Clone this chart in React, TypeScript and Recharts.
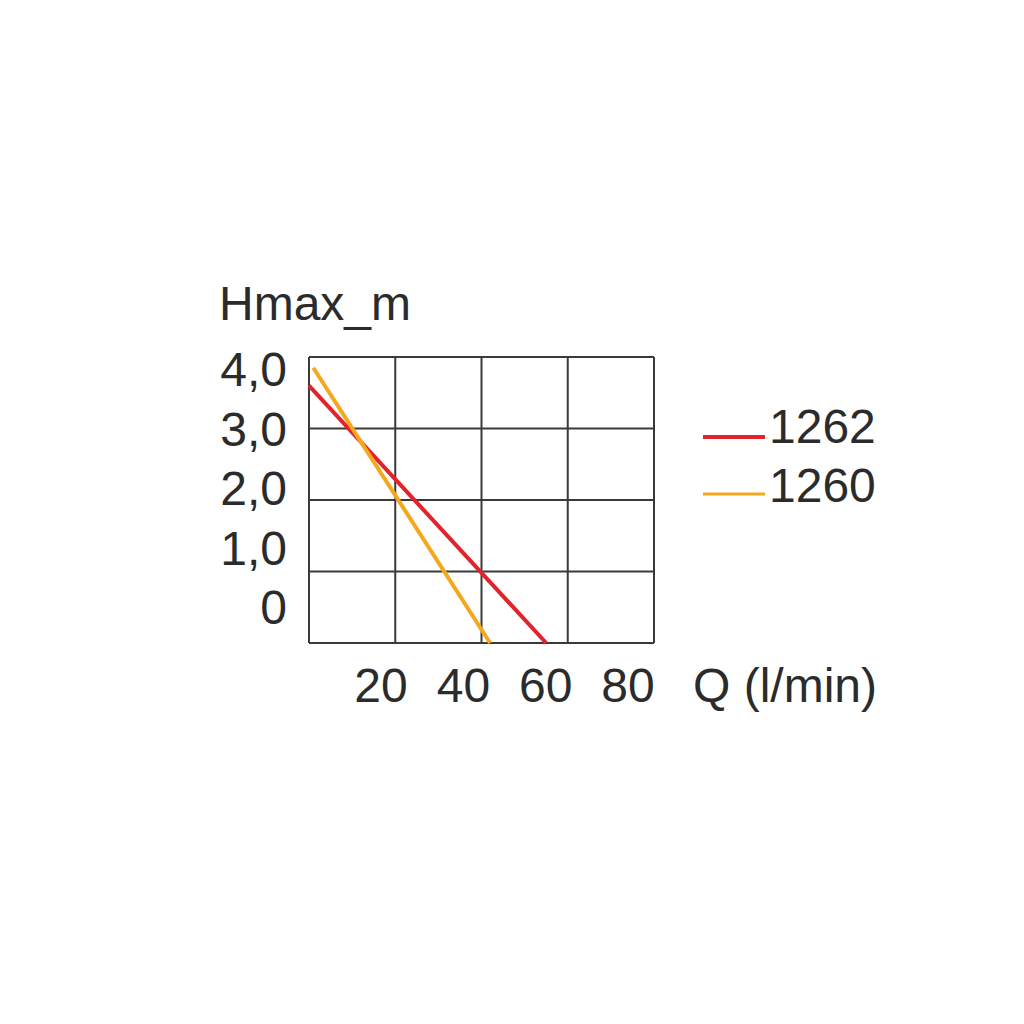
import React from "react";
import { LineChart, Line, XAxis, YAxis, CartesianGrid, Legend, Label } from "recharts";

// grid positions (Q in l/min, H in m)
const flowTicks = [0, 20, 40, 60, 80];
const headTicks = [0, 1, 2, 3, 4];
// printed labels sit offset from the grid in the original sheet
const flowLabels = [20, 40, 60, 80];
const headLabels = [0, 1, 2, 3, 4];
const seriesOrder = ["1262", "1260"];

const pump1262 = [
  { q: 0, h: 3.6 },
  { q: 55, h: 0 },
];
const pump1260 = [
  { q: 1, h: 3.85 },
  { q: 42, h: 0 },
];

const RED = "#e3232c";
const ORANGE = "#f4a81d";
const INK = "#2b2b2b";
const FONT = "'Liberation Sans', Arial, Helvetica, sans-serif";
const SIZE = 48;

const fmtHead = (v: number) => (v === 0 ? "0" : v.toFixed(1).replace(".", ","));

function HeadTick({ x, y, payload }: any) {
  return (
    <text x={x} y={y} dy="0.34em" textAnchor="end" fontSize={SIZE} fontFamily={FONT} fill={INK}>
      {fmtHead(payload.value)}
    </text>
  );
}

function FlowTick({ x, y, payload }: any) {
  return (
    <text x={x} y={y} dy="0.34em" textAnchor="middle" fontSize={SIZE} fontFamily={FONT} fill={INK}>
      {payload.value}
    </text>
  );
}

function LegendBox({ payload }: any) {
  const items = payload ?? [];
  return (
    <svg width={220} height={120}>
      {items.map((p: any, i: number) => (
        <g key={p.value}>
          <line
            x1={3}
            x2={65}
            y1={37 + i * 57}
            y2={37 + i * 57}
            stroke={p.color}
            strokeWidth={i === 0 ? 4 : 3}
          />
          <text x={69} y={27 + i * 59} dy="0.34em" fontSize={SIZE} fontFamily={FONT} fill={INK}>
            {p.value}
          </text>
        </g>
      ))}
    </svg>
  );
}

export default function App() {
  return (
    <div style={{ position: "absolute", left: 0, top: 0 }}>
      <LineChart width={1000} height={1000} margin={{ top: 357, right: 346, bottom: 297, left: 229 }}>
        <CartesianGrid xAxisId="q" yAxisId="h" stroke="#3a3a3a" strokeWidth={2} />
        <XAxis
          xAxisId="q"
          type="number"
          dataKey="q"
          domain={[0, 80]}
          ticks={flowTicks}
          height={0}
          hide
        />
        <XAxis
          xAxisId="lbl"
          type="number"
          dataKey="q"
          domain={[2.5, 86.3]}
          ticks={flowLabels}
          allowDataOverflow
          interval={0}
          height={60}
          axisLine={false}
          tickLine={false}
          tickSize={0}
          tickMargin={43}
          tick={<FlowTick />}
        >
          <Label
            content={({ viewBox }: any) => (
              <text
                x={viewBox.x + viewBox.width + 39}
                y={viewBox.y + 43}
                dy="0.34em"
                fontSize={SIZE}
                fontFamily={FONT}
                fill={INK}
              >
                Q (l/min)
              </text>
            )}
          />
        </XAxis>
        <YAxis yAxisId="h" type="number" domain={[0, 4]} ticks={headTicks} width={0} hide />
        <YAxis
          yAxisId="lbl"
          type="number"
          domain={[-0.59, 4.215]}
          ticks={headLabels}
          allowDataOverflow
          interval={0}
          width={80}
          axisLine={false}
          tickLine={false}
          tickSize={0}
          tickMargin={22}
          tick={<HeadTick />}
        >
          <Label
            content={({ viewBox }: any) => (
              <text x={viewBox.x - 10} y={viewBox.y - 53} dy="0.34em" fontSize={SIZE} fontFamily={FONT} fill={INK}>
                Hmax_m
              </text>
            )}
          />
        </YAxis>
        <Legend
          layout="horizontal"
          verticalAlign="middle"
          align="center"
          itemSorter={(item: any) => seriesOrder.indexOf(item.value)}
          content={<LegendBox />}
          wrapperStyle={{ position: "absolute", left: 700, top: 400, width: 220, height: 120 }}
        />
        <Line
          xAxisId="q"
          yAxisId="h"
          data={pump1262}
          dataKey="h"
          name="1262"
          type="linear"
          stroke={RED}
          strokeWidth={4}
          dot={false}
          isAnimationActive={false}
        />
        <Line
          xAxisId="q"
          yAxisId="h"
          data={pump1260}
          dataKey="h"
          name="1260"
          type="linear"
          stroke={ORANGE}
          strokeWidth={4}
          dot={false}
          isAnimationActive={false}
        />
      </LineChart>
    </div>
  );
}
